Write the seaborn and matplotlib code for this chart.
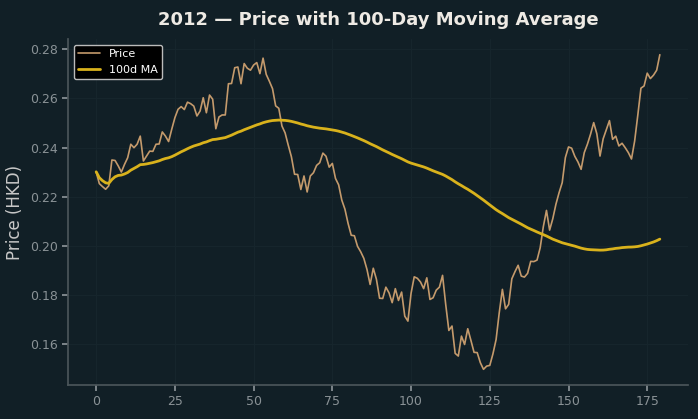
import numpy as np
import pandas as pd
import matplotlib
matplotlib.use('Agg')
import matplotlib.pyplot as plt
import seaborn as sns

# daily closing price, 2012 (180 trading days)
price = [
    0.2302, 0.2254, 0.2242, 0.2231, 0.2245, 0.2350, 0.2348, 0.2326, 0.2301, 0.2332,
    0.2359, 0.2414, 0.2400, 0.2414, 0.2447, 0.2346, 0.2366, 0.2386, 0.2385, 0.2414,
    0.2415, 0.2464, 0.2447, 0.2425, 0.2475, 0.2522, 0.2556, 0.2567, 0.2555, 0.2585,
    0.2579, 0.2569, 0.2529, 0.2549, 0.2603, 0.2542, 0.2614, 0.2597, 0.2477, 0.2525,
    0.2533, 0.2533, 0.2660, 0.2661, 0.2725, 0.2728, 0.2660, 0.2742, 0.2723, 0.2715,
    0.2736, 0.2746, 0.2701, 0.2764, 0.2698, 0.2670, 0.2640, 0.2570, 0.2560, 0.2488,
    0.2460, 0.2410, 0.2363, 0.2292, 0.2291, 0.2230, 0.2285, 0.2220, 0.2285, 0.2298,
    0.2328, 0.2339, 0.2378, 0.2365, 0.2321, 0.2336, 0.2275, 0.2249, 0.2187, 0.2150,
    0.2092, 0.2044, 0.2042, 0.1999, 0.1977, 0.1950, 0.1905, 0.1844, 0.1910, 0.1865,
    0.1788, 0.1787, 0.1833, 0.1810, 0.1770, 0.1827, 0.1779, 0.1813, 0.1715, 0.1695,
    0.1808, 0.1875, 0.1869, 0.1854, 0.1827, 0.1871, 0.1783, 0.1790, 0.1821, 0.1833,
    0.1881, 0.1763, 0.1657, 0.1675, 0.1564, 0.1553, 0.1634, 0.1600, 0.1664, 0.1617,
    0.1568, 0.1567, 0.1526, 0.1499, 0.1512, 0.1515, 0.1562, 0.1620, 0.1729, 0.1824,
    0.1745, 0.1763, 0.1867, 0.1896, 0.1922, 0.1878, 0.1874, 0.1889, 0.1938, 0.1937,
    0.1943, 0.1993, 0.2079, 0.2145, 0.2065, 0.2111, 0.2170, 0.2217, 0.2258, 0.2360,
    0.2403, 0.2398, 0.2365, 0.2342, 0.2312, 0.2380, 0.2414, 0.2455, 0.2502, 0.2456,
    0.2366, 0.2436, 0.2473, 0.2510, 0.2434, 0.2447, 0.2407, 0.2418, 0.2400, 0.2380,
    0.2354, 0.2427, 0.2532, 0.2642, 0.2651, 0.2703, 0.2681, 0.2695, 0.2715, 0.2778,
]
window = 100

df = pd.DataFrame({'day': np.arange(len(price)), 'price': price})
df['ma'] = df['price'].rolling(window, min_periods=1).mean()

bg = '#111f26'
sns.set_theme(style='dark')
plt.rcParams.update({
    'figure.facecolor': bg,
    'axes.facecolor': bg,
    'axes.edgecolor': '#4a5559',
    'axes.grid': True,
    'grid.color': '#16252c',
    'grid.linewidth': 0.8,
    'xtick.color': '#8a9296',
    'ytick.color': '#8a9296',
    'xtick.bottom': True,
    'ytick.left': True,
})
plt.rcParams['font.family'] = ['DejaVu Sans']

fig, ax = plt.subplots(figsize=(6.98, 4.19), dpi=100)
fig.subplots_adjust(left=0.0974, right=0.9857, top=0.907, bottom=0.081)

sns.lineplot(data=df, x='day', y='price', ax=ax, color='#c49a6c', linewidth=1.2, label='Price')
sns.lineplot(data=df, x='day', y='ma', ax=ax, color='#d9b21c', linewidth=2.0, label=f'{window}d MA')

ax.set_title('2012 — Price with 100-Day Moving Average', color='#eeeae4',
             fontsize=13, fontweight='bold', pad=10)
ax.set_xlabel('')
ax.set_ylabel('Price (HKD)', color='#c8c8c8', fontsize=12)
ax.yaxis.set_major_formatter(matplotlib.ticker.FormatStrFormatter('%.2f'))
ax.tick_params(labelsize=9, length=4, color='#8a9296')
sns.despine(ax=ax)

leg = ax.legend(loc='upper left', facecolor='black', edgecolor='#bbbbbb',
                fontsize=8, framealpha=1)
for t in leg.get_texts():
    t.set_color('white')

fig.savefig('out.png', dpi=100, facecolor=bg)
